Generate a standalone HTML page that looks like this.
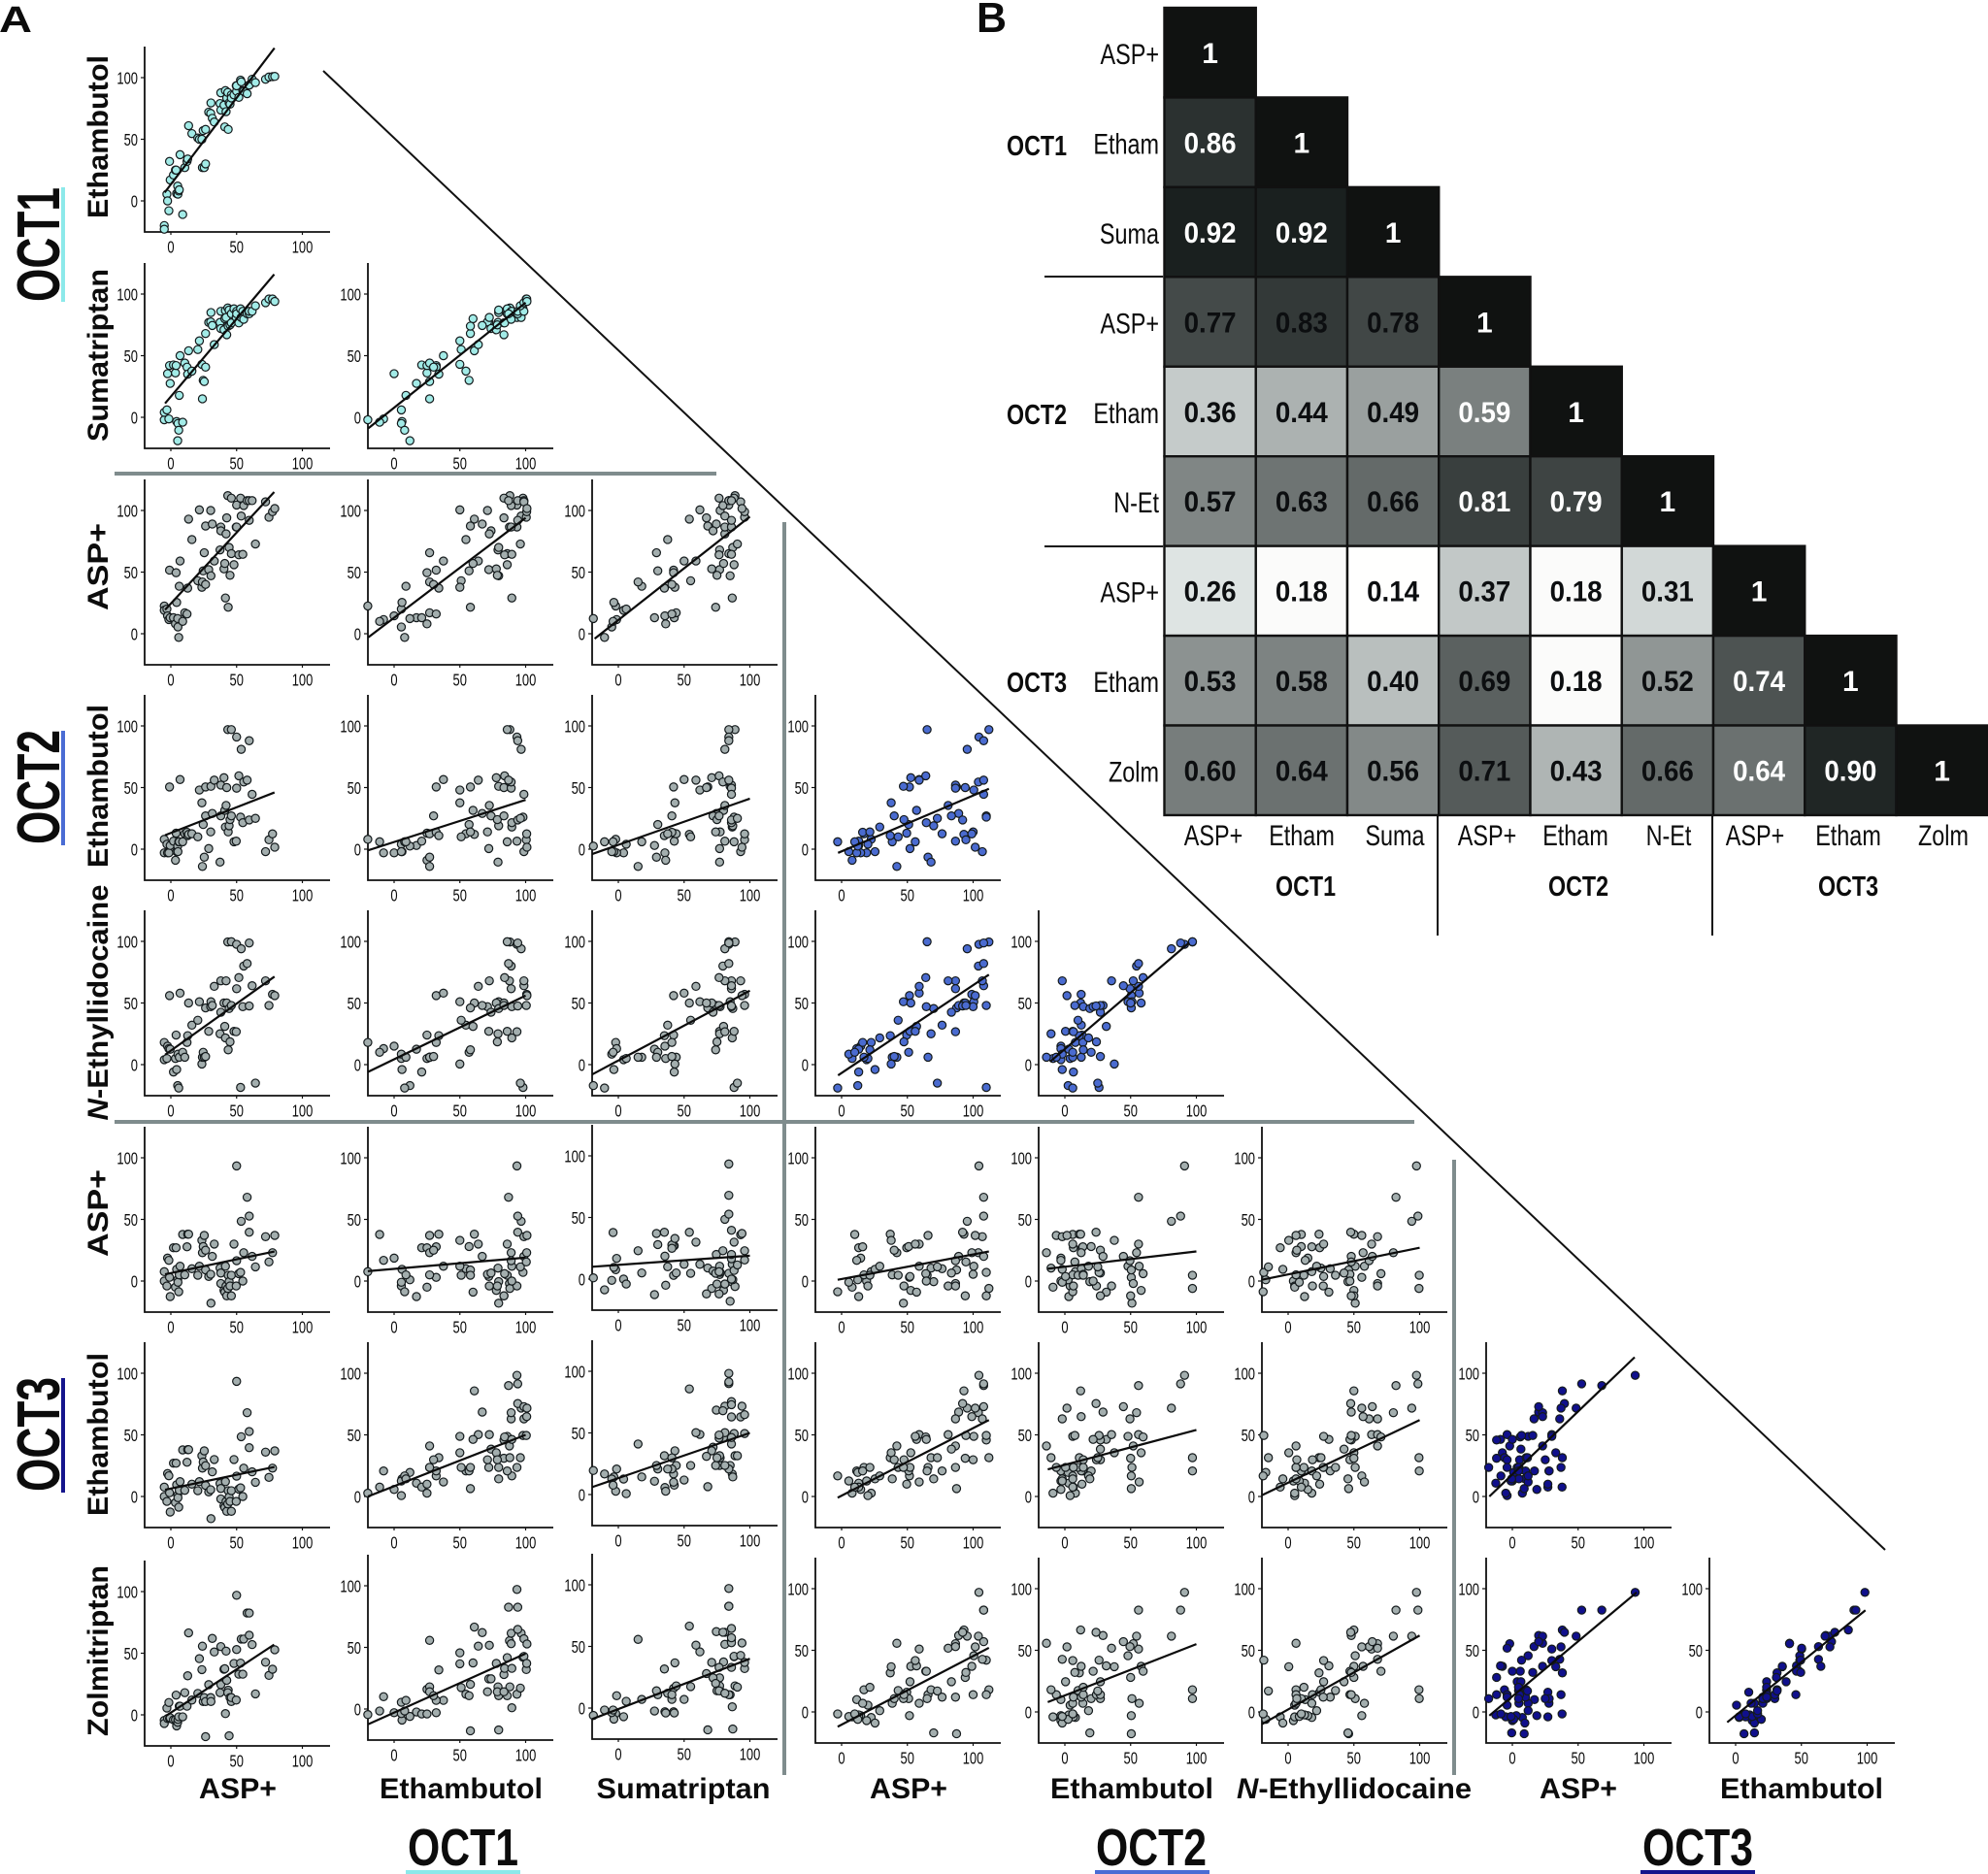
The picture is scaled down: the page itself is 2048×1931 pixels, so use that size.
<!DOCTYPE html>
<html lang="en">
<head>
<meta charset="utf-8">
<title>Correlation scatter matrix and heatmap</title>
<style>
html,body{margin:0;padding:0;background:#fff;}
svg{display:block;font-family:"Liberation Sans",sans-serif;}
text{fill:#0c0c0c;}
.rl{font-size:30px;font-weight:700;text-anchor:middle;}
.oct{font-size:54px;font-weight:700;text-anchor:middle;}
.octl{font-size:62px;font-weight:700;text-anchor:middle;}
.hl{font-size:30px;text-anchor:end;}
.hb{font-size:29px;font-weight:700;text-anchor:middle;}
</style>
</head>
<body>
<svg id="figure" xmlns="http://www.w3.org/2000/svg" width="2048" height="1931" viewBox="0 0 2048 1931">
<text x="-1" y="33" font-size="38" font-weight="700" textLength="34" lengthAdjust="spacingAndGlyphs">A</text>
<text x="1006" y="33" font-size="44" font-weight="700" textLength="31" lengthAdjust="spacingAndGlyphs">B</text>

<g id="panelA"></g>

<line x1="333" y1="73" x2="1942" y2="1597" stroke="#111" stroke-width="2"/>
<rect x="118" y="486" width="620" height="4" fill="#7f8c8d"/>
<rect x="118" y="1154" width="1339" height="4" fill="#7f8c8d"/>
<rect x="806" y="538" width="4" height="1291" fill="#7f8c8d"/>
<rect x="1496" y="1195" width="4" height="634" fill="#7f8c8d"/>

<text class="rl" transform="translate(111,141) rotate(-90)" textLength="168" lengthAdjust="spacingAndGlyphs">Ethambutol</text>
<text class="rl" transform="translate(111,366) rotate(-90)" textLength="178" lengthAdjust="spacingAndGlyphs">Sumatriptan</text>
<text class="rl" transform="translate(111,584) rotate(-90)" textLength="90" lengthAdjust="spacingAndGlyphs">ASP+</text>
<text class="rl" transform="translate(111,810) rotate(-90)" textLength="168" lengthAdjust="spacingAndGlyphs">Ethambutol</text>
<text class="rl" transform="translate(111,1033) rotate(-90)" textLength="243" lengthAdjust="spacingAndGlyphs"><tspan font-style="italic">N</tspan>-Ethyllidocaine</text>
<text class="rl" transform="translate(111,1250) rotate(-90)" textLength="90" lengthAdjust="spacingAndGlyphs">ASP+</text>
<text class="rl" transform="translate(111,1478) rotate(-90)" textLength="168" lengthAdjust="spacingAndGlyphs">Ethambutol</text>
<text class="rl" transform="translate(111,1701) rotate(-90)" textLength="176" lengthAdjust="spacingAndGlyphs">Zolmitriptan</text>

<text class="rl" x="245" y="1853" textLength="80" lengthAdjust="spacingAndGlyphs">ASP+</text>
<text class="rl" x="475" y="1853" textLength="168" lengthAdjust="spacingAndGlyphs">Ethambutol</text>
<text class="rl" x="704" y="1853" textLength="179" lengthAdjust="spacingAndGlyphs">Sumatriptan</text>
<text class="rl" x="936" y="1853" textLength="80" lengthAdjust="spacingAndGlyphs">ASP+</text>
<text class="rl" x="1166" y="1853" textLength="168" lengthAdjust="spacingAndGlyphs">Ethambutol</text>
<text class="rl" x="1395" y="1853" textLength="242" lengthAdjust="spacingAndGlyphs"><tspan font-style="italic">N</tspan>-Ethyllidocaine</text>
<text class="rl" x="1626" y="1853" textLength="80" lengthAdjust="spacingAndGlyphs">ASP+</text>
<text class="rl" x="1856" y="1853" textLength="168" lengthAdjust="spacingAndGlyphs">Ethambutol</text>

<text class="octl" transform="translate(61,252) rotate(-90)" textLength="118" lengthAdjust="spacingAndGlyphs">OCT1</text>
<rect x="63" y="193" width="4" height="118" fill="#8ce9ea"/>
<text class="octl" transform="translate(61,811) rotate(-90)" textLength="118" lengthAdjust="spacingAndGlyphs">OCT2</text>
<rect x="63" y="753" width="4" height="118" fill="#4a6cd4"/>
<text class="octl" transform="translate(61,1478) rotate(-90)" textLength="118" lengthAdjust="spacingAndGlyphs">OCT3</text>
<rect x="63" y="1420" width="4" height="118" fill="#15158c"/>

<text class="oct" x="477" y="1922" textLength="114" lengthAdjust="spacingAndGlyphs">OCT1</text>
<rect x="418" y="1927" width="118" height="4" fill="#8ce9ea"/>
<text class="oct" x="1186" y="1922" textLength="114" lengthAdjust="spacingAndGlyphs">OCT2</text>
<rect x="1128" y="1927" width="118" height="4" fill="#4a6cd4"/>
<text class="oct" x="1749" y="1922" textLength="114" lengthAdjust="spacingAndGlyphs">OCT3</text>
<rect x="1690" y="1927" width="118" height="4" fill="#15158c"/>

<g id="panelB"></g>

<line x1="1076" y1="285" x2="1198" y2="285" stroke="#111" stroke-width="2"/>
<line x1="1076" y1="563" x2="1198" y2="563" stroke="#111" stroke-width="2"/>
<line x1="1481" y1="840" x2="1481" y2="964" stroke="#111" stroke-width="2"/>
<line x1="1764" y1="840" x2="1764" y2="964" stroke="#111" stroke-width="2"/>

<text class="hb" x="1068" y="160" textLength="62" lengthAdjust="spacingAndGlyphs">OCT1</text>
<text class="hb" x="1068" y="437" textLength="62" lengthAdjust="spacingAndGlyphs">OCT2</text>
<text class="hb" x="1068" y="713" textLength="62" lengthAdjust="spacingAndGlyphs">OCT3</text>
<text class="hb" x="1345" y="923" textLength="62" lengthAdjust="spacingAndGlyphs">OCT1</text>
<text class="hb" x="1626" y="923" textLength="62" lengthAdjust="spacingAndGlyphs">OCT2</text>
<text class="hb" x="1904" y="923" textLength="62" lengthAdjust="spacingAndGlyphs">OCT3</text>
</svg>

<script>
// Percent-inhibition values, one entry per compound, one array per transporter/probe pair.
const asp1=[-5,-5,-3,-2.5,-1.5,-1,-0.5,2,3.5,4,4.4,5.2,5.4,6,6.4,7,9,10.6,12.3,12.8,13.5,16,20.5,21.7,23.6,24,24.6,25.4,26.4,26.4,28.8,30.3,30.5,31.5,33,37.4,38,38,40.4,41,41.5,42,42.5,43.6,43.3,44.3,45,46,46,48,49.7,50,50,51.7,53,53.5,54.7,55.4,58,59.6,59.6,61.8,64.3,72,74.6,77.3,79];
const eth1=[-20,-23,5.5,0,-8,32,17,21,25,25,6,12,5.5,8,9,37.5,-11,27,32,34,61,54.6,51,50,50,27,57,27,30,58,72,71,79.5,67,64,79,87.7,73.7,77.7,60,89.5,72.4,83.5,58,88,79.5,78.5,86,83.5,86,93.4,89,93.4,84,98,96.6,89.5,89,87,94,94,98.7,96,98.7,100.5,100.8,101];
const sum1=[-2,4,6,35.4,-1.3,42,27.5,42.5,36,42,-3.4,-19,-5,-10.5,17.8,50,-4,44,40.7,35,54,37.5,55,62,43,15,30,29,40.7,68,77,77.4,85,74.5,59,77,86,72,71,80,86.6,81,67,74,88.7,87,75,84,76.6,88,81,86,84,76.6,88,81,86,79.5,84,84,86,86,90.5,93,96,96,94];
const asp2=[22.5,19,20,14.5,11.5,51.6,13,13,8,49.5,25.4,12.3,5.5,-3,38.5,59,10,17,16,37,93,76.4,43,100.5,37.7,42,51,65.7,40,87.4,52,100,47,89,59,68,86.6,83.5,52.6,57,29,81,94,21.5,112,70,47.4,65,110,56,86.6,86.6,104.4,64,110,95.5,64.4,104,108,108,92,108,72.8,107,94.5,99,101.6];
const eth2=[8,-3,4,-3,-3,50.5,3,6.5,-9,13,-2,2.5,-2,6,6,56.5,6,12.5,13.7,11,12,12.5,10,48,37.6,-14,20,-6.5,27,50.5,0.5,14,51,29,56,-10.5,52,27,58,31.5,18,35.5,50,14,97,19,24,97,27,6,6.5,49.5,91,59.5,26,81,21.5,54.5,56,88,23.7,44.5,25,-2,7.6,12.4,1.6];
const net2=[18,4,5,15,13,56,12.5,-6,5,24,-4,-17,8.5,-19,6,58,10,6,18,23.5,50,32,36,51,0.5,6,10,6,6.6,46,27,47,51,48,63.5,25,68,42.5,50,31,21.7,68,50,12,99.5,45.5,18.5,99.7,48,27,26.7,61.6,97.6,70.6,-18.5,94,47,80,82,98.7,47.6,64,-15,68,48,57,56];
const asp3=[7.6,0,-4,18.6,16.8,3,-12.6,27,-5,27,9.5,1,-1,-8.7,5,12,37.8,5,27.8,38,38,10,4.7,12,33,23,28,37,25,9,3.7,5.5,-18,20,30,10.5,-2,6.5,-7.6,-9,12,-4,-12,4.7,-6,-0.5,-4,4.7,-12,30,-4,16.5,93.4,6,7,48.5,0,23,68,52.7,39.6,20,11.5,36,15.5,23,37];
const eth3=[2.7,12.6,0.7,5.7,20.7,16.7,10.8,7.6,2.7,10,14.3,19.5,12.6,16.7,14.3,11.8,7.6,23.6,20.7,31.5,85.7,20.7,23.6,48.8,35.5,41,20.7,23.6,29.8,6.4,23.6,29.8,23.6,68.5,50.2,31.5,41,38.4,35.5,46.3,16.7,50.2,31,23.6,31.5,14.3,29.8,20.7,45.8,48.8,23.6,63,98.3,48.3,49.5,71.7,46.3,68,90,91.4,75.4,72.9,31.5,63,49.5,64.8,71.7];
const zol3=[-4.5,-7,5.5,-3,10,-3,-2.4,-4,-4,16,-9,-6,-3.7,-1.6,7,7,-1.6,18,7,31.7,66.5,12,17.4,45.6,36.7,55.7,10.8,14,10.8,-17.7,24.5,14,10.8,62,51,18,55.4,24.5,37,37.4,1,51.7,28,20,18,-17,14,10.8,14,41.7,12,53,97,33,42,61.5,33,61.5,82.6,82.6,64.6,57,17,42.7,32,37,52.8];

const xTickValues=[0,50,100];
const yTickValues=[0,50,100];

// Regression line end points per panel, row by row: [x0, y0, x1, y1] in data units.
const fitRow0=[[-4.7,6.8,78.8,124]];
const fitRow1=[[-4.4,11.3,78.6,116],[-19.7,-9,100,93]];
const fitRow2=[[-4.4,19.4,78.6,115],[-19.7,-3,100,94],[-18,-4,100,95]];
const fitRow3=[[-4.4,11.3,78.8,46],[-20,-1,100,40],[-20,-4,100,41],[-2.7,-3,112,49]];
const fitRow4=[[-4.4,8,78.8,71.4],[-20,-6,100,56],[-20,-8,100,60],[-2.7,-8.7,112,73],[-11,2.6,94.6,99]];
const fitRow5=[[-4.4,5.5,78.8,24],[-20,8,100,19],[-20,10,100,19],[-3,1,112,24],[-13,10,100,24],[-20,1,100,27]];
const fitRow6=[[-4.4,5.5,78.8,24],[-20,0,100,50],[-20,6,100,50],[-3,-1,112,62],[-13,22,100,54],[-20,1,100,62],[-17.5,0,93,113]];
const fitRow7=[[-4,-1,78.5,57],[-19.8,-12.4,100,45],[-20,-9,100,40],[-3,-12,112,52],[-13,8,100,55],[-20,-10,100,62],[-17.5,-3,94.5,97],[-6.4,-8.4,98.7,82.5]];

const heatRows=['ASP+','Etham','Suma','ASP+','Etham','N-Et','ASP+','Etham','Zolm'];
const heatRow0=['1'];
const heatRow1=['0.86','1'];
const heatRow2=['0.92','0.92','1'];
const heatRow3=['0.77','0.83','0.78','1'];
const heatRow4=['0.36','0.44','0.49','0.59','1'];
const heatRow5=['0.57','0.63','0.66','0.81','0.79','1'];
const heatRow6=['0.26','0.18','0.14','0.37','0.18','0.31','1'];
const heatRow7=['0.53','0.58','0.40','0.69','0.18','0.52','0.74','1'];
const heatRow8=['0.60','0.64','0.56','0.71','0.43','0.66','0.64','0.90','1'];
const lightTextCells=['1,0','2,0','2,1','4,3','5,3','5,4','7,6','8,6','8,7'];

const NS='http://www.w3.org/2000/svg';
function mk(tag,attrs,parent){
  const el=document.createElementNS(NS,tag);
  for(const k in attrs){el.setAttribute(k,attrs[k]);}
  parent.appendChild(el);
  return el;
}
function label(el,name){
  
  
  return el;
}

/* ---------- Panel A ---------- */
const variables=[asp1,eth1,sum1,asp2,eth2,net2,asp3,eth3,zol3];
const varGroup=[1,1,1,2,2,2,3,3,3];
const groupFill={1:'#a2ebe7',2:'#4a6bd0',3:'#10108c'};
const grayFill='#a3aeae';
const fits=[fitRow0,fitRow1,fitRow2,fitRow3,fitRow4,fitRow5,fitRow6,fitRow7];
const colAxisX=[149,379,610,840,1070,1300,1531,1761];
const rowAxisY=[239,462,685,907,1129,1352,1574,1796];
function panelShift(r,c){
  if(r===7&&c===0)return 3;
  if(r===7&&c===1)return -3;
  if(r===7&&c===2)return -4;
  if((r===5||r===6)&&c===2)return -2;
  return 0;
}
const panelA=document.getElementById('panelA');
for(let r=0;r<8;r++){
  for(let c=0;c<=r;c++){
    const left=colAxisX[c], bottom=rowAxisY[r]+panelShift(r,c);
    const sx=v=>left+27+1.355*v;
    const sy=v=>bottom-32-1.27*v;
    const g=mk('g',{},panelA);
    label(g,'scatter-panel-r'+(r+1)+'-c'+(c+1));
    const yVar=(r===6&&c===0)?6:r+1; // the reference repeats the ASP+ OCT3 panel here
    const xs=variables[c], ys=variables[yVar];
    const same=varGroup[c]===varGroup[r+1];
    const fill=same?groupFill[varGroup[c]]:grayFill;
    const axis=mk('path',{d:'M'+left+' '+(bottom-191)+'V'+bottom+'H'+(left+191),fill:'none',stroke:'#111','stroke-width':1.8},g);
    label(axis,'axes');
    xTickValues.forEach(v=>{
      const t=mk('line',{x1:sx(v),x2:sx(v),y1:bottom,y2:bottom+3,stroke:'#111','stroke-width':1.2},g);
      label(t,'x-tick');
      const tx=mk('text',{transform:'translate('+sx(v)+','+(bottom+21.5)+') scale(.72,1)','font-size':18,'text-anchor':'middle'},g);
      tx.textContent=String(v);
      label(tx,'x-tick-label');
    });
    yTickValues.forEach(v=>{
      const t=mk('line',{x1:left-4,x2:left,y1:sy(v),y2:sy(v),stroke:'#111','stroke-width':1.2},g);
      label(t,'y-tick');
      const tx=mk('text',{transform:'translate('+(left-7)+','+(sy(v)+6.5)+') scale(.72,1)','font-size':18,'text-anchor':'end'},g);
      tx.textContent=String(v);
      label(tx,'y-tick-label');
    });
    const n=Math.min(xs.length,ys.length);
    for(let i=0;i<n;i++){
      if(xs[i]<-21)continue;
      const p=mk('circle',{cx:sx(xs[i]),cy:sy(ys[i]),r:4.1,fill:fill,stroke:'#141a1c','stroke-width':1.2},g);
      label(p,'data-point');
    }
    const f=fits[r][c];
    const fl=mk('line',{x1:sx(f[0]),y1:sy(f[1]),x2:sx(f[2]),y2:sy(f[3]),stroke:'#0c0c0c','stroke-width':2.2},g);
    label(fl,'regression-line');
  }
}

/* ---------- Panel B ---------- */
const heatMatrix=[heatRow0,heatRow1,heatRow2,heatRow3,heatRow4,heatRow5,heatRow6,heatRow7,heatRow8];
const grayStops=[[.14,255],[.18,251],[.26,228],[.36,203],[.44,178],[.53,146],[.6,125],[.69,97],[.77,74],[.86,49],[.92,32],[1,18]];
function heatColor(v){
  let g=18;
  for(let i=0;i<grayStops.length-1;i++){
    const a=grayStops[i], b=grayStops[i+1];
    if(v>=a[0]&&v<=b[0]){g=a[1]+(b[1]-a[1])*(v-a[0])/(b[0]-a[0]);break;}
  }
  const tint=g>240?0:(g<25?2:6);
  return 'rgb('+Math.round(g-tint)+','+Math.round(g)+','+Math.round(g-1)+')';
}
const panelB=document.getElementById('panelB');
const heatX=i=>1199.5+94.25*i;
const heatY=i=>8+92.44*i;
const heatColumnLabelX=[1250,1341,1437,1532,1623,1719,1808,1904,2002];
heatMatrix.forEach((row,r)=>{
  const rl=mk('text',{class:'hl',transform:'translate(1194,'+(heatY(r)+46+12)+') scale(.78,1)'},panelB);
  rl.textContent=heatRows[r];
  label(rl,'heatmap-row-label');
  row.forEach((val,c)=>{
    const v=parseFloat(val);
    const cell=mk('rect',{x:heatX(c),y:heatY(r),width:94.25,height:92.44,fill:heatColor(v),stroke:'#111','stroke-width':2.4},panelB);
    label(cell,'heatmap-cell');
    const light=v===1||lightTextCells.indexOf(r+','+c)>=0;
    const attrs={x:heatX(c)+47.1,y:heatY(r)+46+11,'font-size':30,'font-weight':700,'text-anchor':'middle',style:'fill:'+(light?'#fff':'#0c0e10')};
    if(val.length>1){attrs.textLength=54;attrs.lengthAdjust='spacingAndGlyphs';}
    const t=mk('text',attrs,panelB);
    t.textContent=val;
    label(t,'heatmap-value');
  });
});
heatRows.forEach((name,c)=>{
  const t=mk('text',{'font-size':30,'text-anchor':'middle',transform:'translate('+heatColumnLabelX[c]+',871) scale(.78,1)'},panelB);
  t.textContent=name;
  label(t,'heatmap-column-label');
});
</script>
</body>
</html>
